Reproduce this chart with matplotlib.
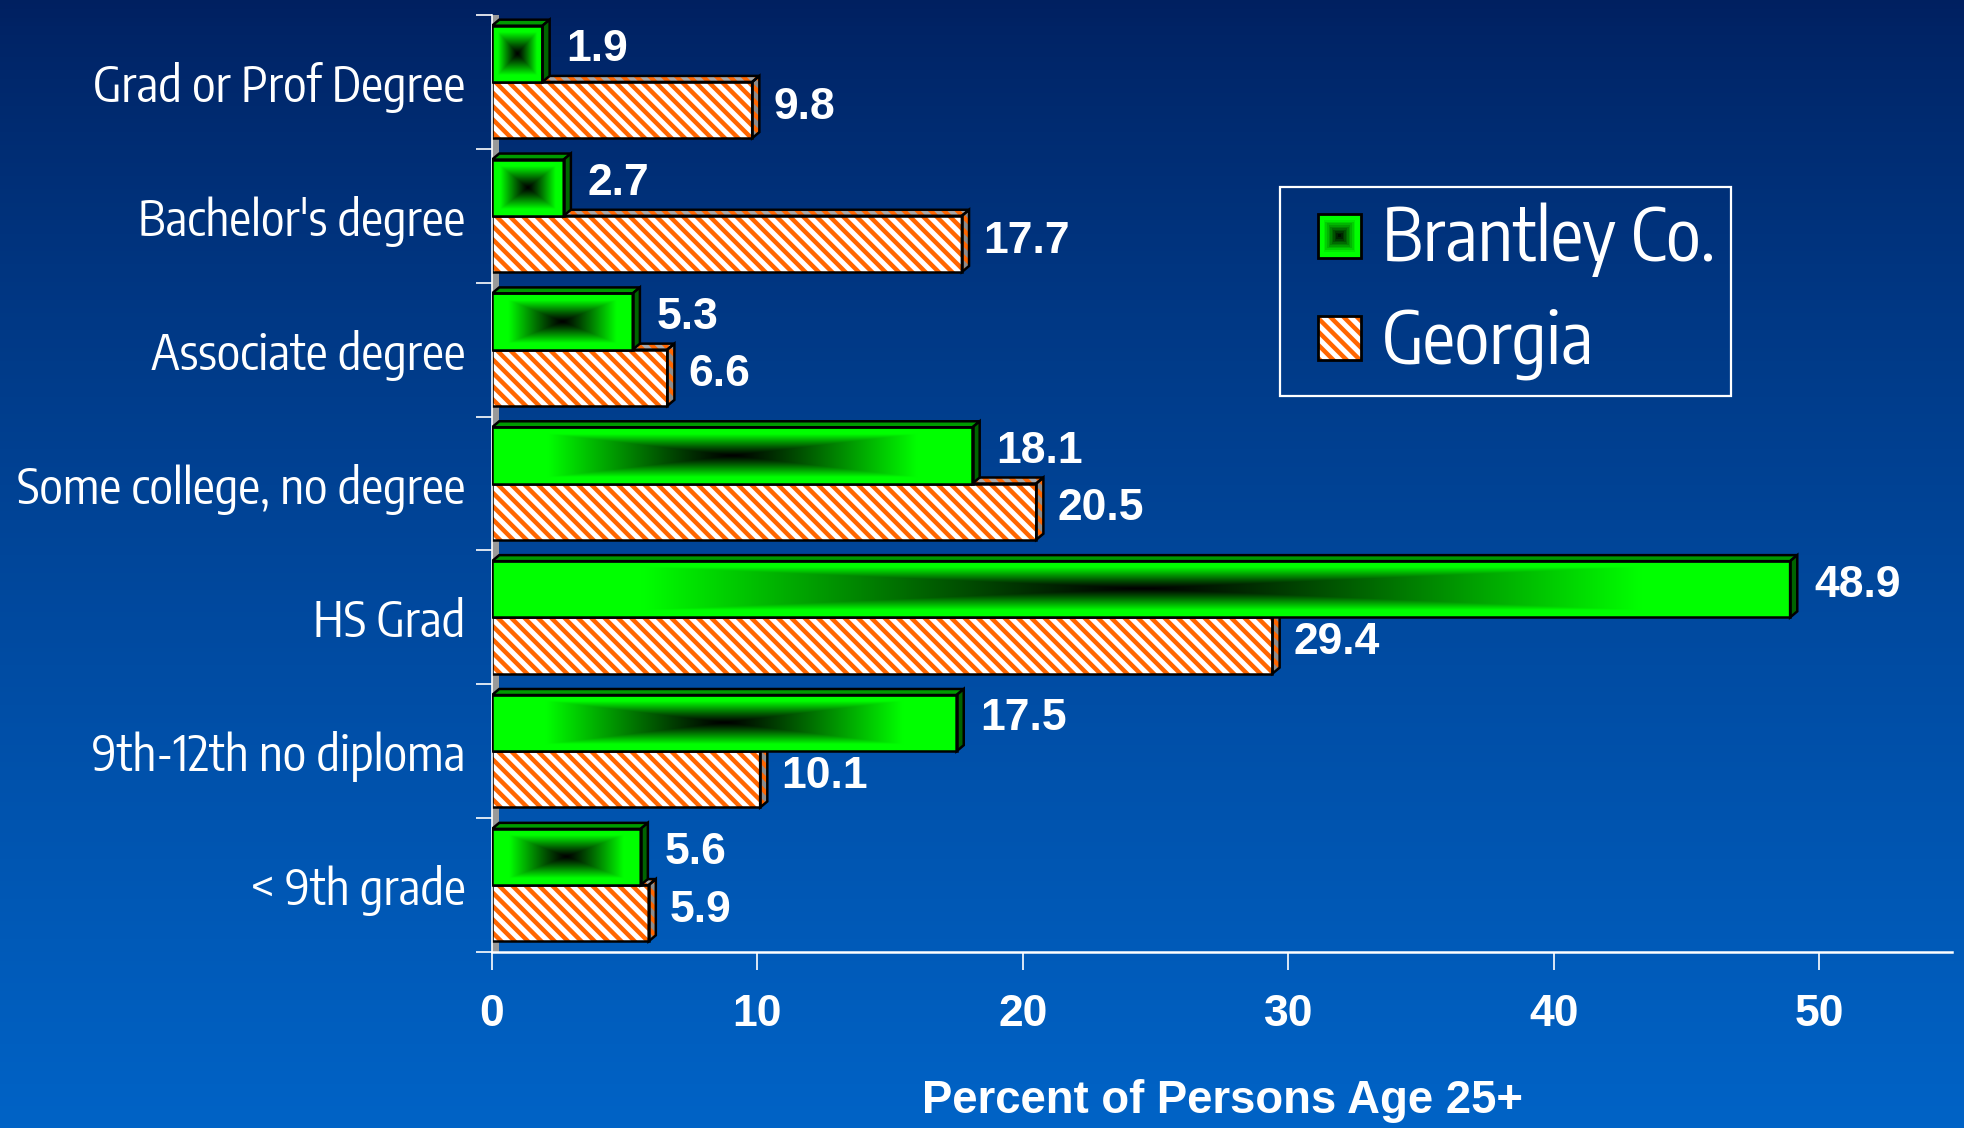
import numpy as np
import matplotlib
matplotlib.use("Agg")
import matplotlib.pyplot as plt
from matplotlib.patches import Rectangle, Polygon
from matplotlib.legend_handler import HandlerBase

# education levels, bottom to top as drawn
categories = ["< 9th grade", "9th-12th no diploma", "HS Grad", "Some college, no degree",
              "Associate degree", "Bachelor's degree", "Grad or Prof Degree"]
brantley = [5.6, 17.5, 48.9, 18.1, 5.3, 2.7, 1.9]
georgia = [5.9, 10.1, 29.4, 20.5, 6.6, 17.7, 9.8]
series_names = ["Brantley Co.", "Georgia"]
xticks = [0, 10, 20, 30, 40, 50]

GREEN = np.array([0.0, 1.0, 0.0])
ORANGE = "#ff6600"
NARROW = ["Encode Sans Condensed", "DejaVu Sans"]
BOLD = ["Liberation Sans", "DejaVu Sans"]

plt.rcParams["hatch.linewidth"] = 1.6
HATCH = "\\" * 5

fig = plt.figure(figsize=(9.825, 5.64), dpi=200)

# background gradient
bg = fig.add_axes([0, 0, 1, 1], zorder=-5)
f = np.linspace(0, 1, 256)[:, None] ** 0.8
top = np.array([0, 32, 96]) / 255
bot = np.array([0, 99, 198]) / 255
grad = top[None, None, :] * (1 - f[..., None]) + bot[None, None, :] * f[..., None]
bg.imshow(np.repeat(grad, 2, axis=1), aspect="auto", extent=[0, 1, 0, 1])
bg.axis("off")

ax = fig.add_axes([0.2504, 0.1560, 0.7430, 0.8307])
ax.set_facecolor("none")

y = np.arange(len(categories))
h = 0.42
dx, dy = 0.27, 0.045


def rect_gradient(w_px=300, h_px=60):
    xs = np.linspace(-1, 1, w_px)
    ys = np.linspace(-1, 1, h_px)
    t = np.maximum(np.abs(xs)[None, :], np.abs(ys)[:, None])
    b = np.clip(t * 1.3, 0, 1) ** 1.15
    return b[..., None] * GREEN[None, None, :]


# wall strip behind the bars
ax.add_patch(Rectangle((0, -0.5), dx, 7.0, facecolor="#9a9a9a", edgecolor="none", zorder=1))

# Georgia bars (hatched)
gbars = ax.barh(y - h / 2, georgia, height=h, color="white", edgecolor=ORANGE,
                hatch=HATCH, linewidth=0, zorder=2)
ax.barh(y - h / 2, georgia, height=h, fill=False, edgecolor="black", linewidth=0.9, zorder=2.2)
for r in gbars:
    x0, y0, w, hh = r.get_x(), r.get_y(), r.get_width(), r.get_height()
    topf = Polygon([(x0, y0 + hh), (x0 + dx, y0 + hh + dy), (x0 + w + dx, y0 + hh + dy), (x0 + w, y0 + hh)],
                   facecolor="#a8a8a8", edgecolor=ORANGE, hatch=HATCH, linewidth=0, zorder=2)
    side = Polygon([(x0 + w, y0), (x0 + w + dx, y0 + dy), (x0 + w + dx, y0 + hh + dy), (x0 + w, y0 + hh)],
                   facecolor="#8c8c8c", edgecolor=ORANGE, hatch=HATCH, linewidth=0, zorder=2)
    ax.add_patch(topf)
    ax.add_patch(side)
    for p in (topf, side):
        ax.add_patch(Polygon(p.get_xy(), fill=False, edgecolor="black", linewidth=0.9, zorder=2.2))

# Brantley bars (gradient)
bbars = ax.barh(y + h / 2, brantley, height=h, fill=False, edgecolor="black", linewidth=0.9, zorder=3.2)
img = rect_gradient()
for r in bbars:
    x0, y0, w, hh = r.get_x(), r.get_y(), r.get_width(), r.get_height()
    ax.imshow(img, extent=[x0, x0 + w, y0, y0 + hh], aspect="auto", zorder=3, interpolation="bilinear")
    topf = Polygon([(x0, y0 + hh), (x0 + dx, y0 + hh + dy), (x0 + w + dx, y0 + hh + dy), (x0 + w, y0 + hh)],
                   facecolor="#009a00", edgecolor="black", linewidth=0.9, zorder=3)
    side = Polygon([(x0 + w, y0), (x0 + w + dx, y0 + dy), (x0 + w + dx, y0 + hh + dy), (x0 + w, y0 + hh)],
                   facecolor="#006400", edgecolor="black", linewidth=0.9, zorder=3)
    ax.add_patch(topf)
    ax.add_patch(side)

# value labels
for yy, v in zip(y + h / 2, brantley):
    ax.annotate(f"{v:.1f}", (v + dx, yy), xytext=(6, 1.5), textcoords="offset points",
                ha="left", va="center", color="white", fontsize=16, fontweight="bold",
                family=BOLD, zorder=5)
for yy, v in zip(y - h / 2, georgia):
    ax.annotate(f"{v:.1f}", (v + dx, yy), xytext=(5, 1.0), textcoords="offset points",
                ha="left", va="center", color="white", fontsize=16, fontweight="bold",
                family=BOLD, zorder=5)

ax.set_xlim(0, 55)
ax.set_ylim(-0.5, len(categories) - 0.5)

for s in ["top", "right"]:
    ax.spines[s].set_visible(False)
ax.spines["left"].set_color("white")
ax.spines["left"].set_linewidth(0.6)
ax.spines["bottom"].set_color("white")
ax.spines["bottom"].set_linewidth(0.9)

ax.set_xticks(xticks)
ax.set_xticklabels([str(t) for t in xticks], fontsize=16, fontweight="bold", family=BOLD, color="white")
ax.tick_params(axis="x", colors="white", length=6.5, width=0.6, pad=8.5)

ax.set_yticks(y)
ax.set_yticklabels(categories, fontsize=17.6, family=NARROW, color="white")
ax.set_yticks(np.arange(-0.5, len(categories)), minor=True)
ax.tick_params(axis="y", which="major", length=0, pad=9.5, colors="white")
ax.tick_params(axis="y", which="minor", length=5.8, width=0.6, colors="white")

ax.set_xlabel("Percent of Persons Age 25+", fontsize=16.4, fontweight="bold", family=BOLD,
              color="white", labelpad=16)


def _square(xdescent, ydescent, width, height):
    # square handle sitting at the right end of the handle box
    side = height
    return -xdescent + width - side, -ydescent, side


class GradHandler(HandlerBase):
    def create_artists(self, legend, orig_handle, xdescent, ydescent, width, height, fontsize, trans):
        x0, y0, s = _square(xdescent, ydescent, width, height)
        arts = []
        n = 14
        for k in range(n, 0, -1):
            fr = k / n
            w = s * fr
            b = np.clip(fr * 1.3, 0, 1) ** 1.15
            arts.append(Rectangle((x0 + (s - w) / 2, y0 + (s - w) / 2), w, w,
                                  facecolor=GREEN * b, edgecolor="none", transform=trans))
        arts.append(Rectangle((x0, y0), s, s, fill=False,
                              edgecolor="black", linewidth=1.0, transform=trans))
        return arts


class HatchHandler(HandlerBase):
    def create_artists(self, legend, orig_handle, xdescent, ydescent, width, height, fontsize, trans):
        x0, y0, s = _square(xdescent, ydescent, width, height)
        a = Rectangle((x0, y0), s, s, facecolor="white", edgecolor=ORANGE,
                      hatch=HATCH, linewidth=0, transform=trans)
        b = Rectangle((x0, y0), s, s, fill=False, edgecolor="black",
                      linewidth=1.0, transform=trans)
        return [a, b]


h1 = Rectangle((0, 0), 1, 1)
h2 = Rectangle((0, 0), 1, 1)
leg = ax.legend([h1, h2], series_names, handler_map={h1: GradHandler(), h2: HatchHandler()},
                loc="upper left", bbox_to_anchor=(0.540, 0.8164), borderaxespad=0,
                prop={"family": NARROW, "size": 26}, labelcolor="white",
                handlelength=0.9, handleheight=0.555, handletextpad=0.28,
                borderpad=0.22, labelspacing=0.38, fancybox=False, framealpha=1)
leg.get_frame().set_facecolor("none")
leg.get_frame().set_edgecolor("white")
leg.get_frame().set_linewidth(0.8)
leg.set_zorder(6)

fig.savefig("out.png", dpi=200)
